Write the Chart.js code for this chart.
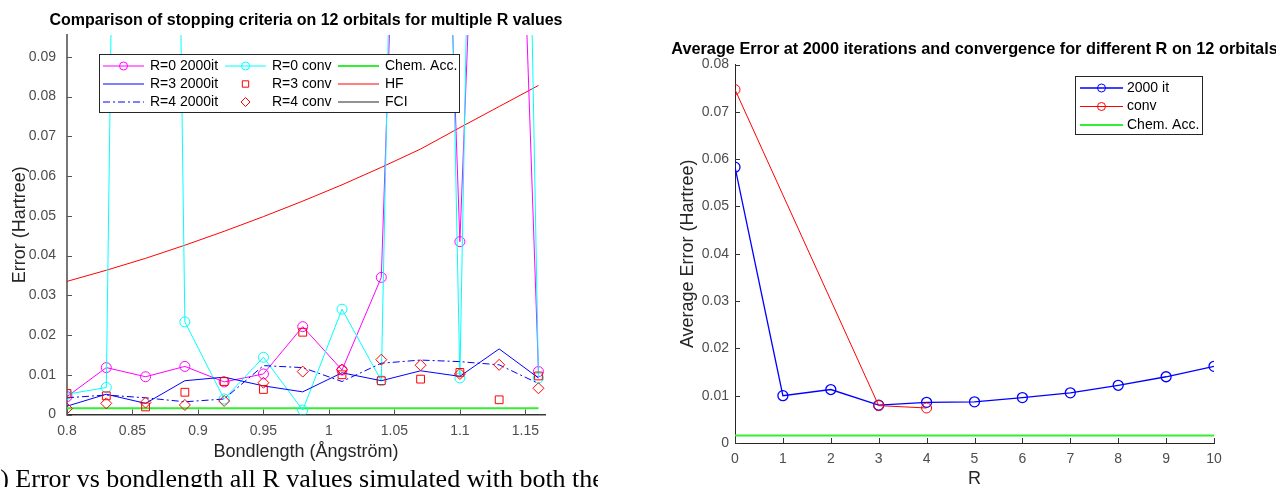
<!DOCTYPE html>
<html>
<head>
<meta charset="utf-8">
<script src="https://cdn.jsdelivr.net/npm/chart.js@4.4.0/dist/chart.umd.min.js"></script>
<style>
  html, body { margin: 0; padding: 0; background: #fff; }
  body { width: 1276px; height: 487px; position: relative; overflow: hidden; }
  #leftBox { position: absolute; left: 0; top: 0; width: 600px; height: 487px; }
  #rightBox { position: absolute; left: 640px; top: 0; width: 636px; height: 487px; }
  #caption {
    position: absolute; left: -20px; top: 466px; width: 618px; height: 21px;
    overflow: hidden; white-space: nowrap; line-height: 26px;
    font-family: 'Liberation Serif', 'DejaVu Serif', serif; font-size: 26px; color: #000;
  }
</style>
</head>
<body>
<div id="leftBox"><canvas id="stopChart" width="600" height="487"></canvas></div>
<div id="rightBox"><canvas id="avgChart" width="636" height="487"></canvas></div>
<div id="caption">(a) Error vs bondlength all R values simulated with both the</div>
<script>
// left plot: error per bondlength
const bondLengths = [0.8, 0.83, 0.86, 0.89, 0.92, 0.95, 0.98, 1.01, 1.04, 1.07, 1.1, 1.13, 1.16];
const r0Iter = [0.0045, 0.0118, 0.0095, 0.0121, 0.0082, 0.0102, 0.0221, 0.0112, 0.0345, 0.33, 0.0435, 0.30, 0.0108];
const r0Conv = [0.0051, 0.0068, 0.75, 0.0233, 0.0039, 0.0144, 0.0011, 0.0265, 0.0085, 0.50, 0.0092, 0.55, 0.0092];
const r3Iter = [0.0021, 0.0051, 0.0028, 0.0085, 0.0094, 0.0072, 0.0057, 0.0105, 0.0085, 0.0110, 0.0096, 0.0165, 0.0092];
const r3Conv = [0.0053, 0.0047, 0.0019, 0.0056, 0.0083, 0.0063, 0.0207, 0.0100, 0.0085, 0.0089, 0.0106, 0.0037, 0.0097];
const r4Iter = [0.0042, 0.0049, 0.0042, 0.0032, 0.0039, 0.0123, 0.0118, 0.0083, 0.0129, 0.0137, 0.0133, 0.0125, 0.0078];
const r4Conv = [0.0015, 0.0028, 0.0030, 0.0024, 0.0034, 0.0080, 0.0108, 0.0113, 0.0138, 0.0124, 0.0102, 0.0125, 0.0066];
const hfError = [0.0335, 0.0363, 0.0393, 0.0426, 0.0461, 0.0498, 0.0537, 0.0578, 0.0622, 0.0668, 0.0722, 0.0775, 0.0828];
const fciError = [0, 0, 0, 0, 0, 0, 0, 0, 0, 0, 0, 0, 0];
const chemAcc = 0.0016;
const bondTicks = [0.8, 0.85, 0.9, 0.95, 1, 1.05, 1.1, 1.15];
const errTicks = [0, 0.01, 0.02, 0.03, 0.04, 0.05, 0.06, 0.07, 0.08, 0.09];

// right plot: average error per R
const rValues = [0, 1, 2, 3, 4, 5, 6, 7, 8, 9, 10];
const avgIter = [0.0583, 0.0100, 0.0113, 0.0080, 0.0086, 0.0087, 0.0096, 0.0106, 0.0122, 0.0140, 0.0162];
const convR = [0, 3, 4];
const avgConv = [0.0747, 0.0079, 0.0074];
const rTicks = [0, 1, 2, 3, 4, 5, 6, 7, 8, 9, 10];
const avgTicks = [0, 0.01, 0.02, 0.03, 0.04, 0.05, 0.06, 0.07, 0.08];

const FONT = "'Liberation Sans Narrow', 'Liberation Sans', Arial, sans-serif";
const TICK_COLOR = '#4d4d4d';
const GREEN = '#33ee33';

function pts(xs, ys) {
  return xs.map((x, i) => ({ x: x, y: ys[i] }));
}

// MATLAB style ticks pointing into the plot
const innerTicks = {
  id: 'innerTicks',
  afterDatasetsDraw(chart, args, o) {
    const { ctx, chartArea: a, scales: { x, y } } = chart;
    ctx.save();
    ctx.strokeStyle = o.color;
    ctx.lineWidth = 1;
    ctx.beginPath();
    x.ticks.forEach(t => {
      const px = Math.round(x.getPixelForValue(t.value)) + 0.5;
      ctx.moveTo(px, a.bottom);
      ctx.lineTo(px, a.bottom - o.len);
    });
    y.ticks.forEach(t => {
      const py = Math.round(y.getPixelForValue(t.value)) + 0.5;
      ctx.moveTo(a.left, py);
      ctx.lineTo(a.left + o.len, py);
    });
    ctx.stroke();
    ctx.restore();
  }
};

const axisText = {
  id: 'axisText',
  afterDraw(chart, args, o) {
    const { ctx, chartArea: a } = chart;
    const cx = (a.left + a.right) / 2;
    const cy = (a.top + a.bottom) / 2;
    ctx.save();
    ctx.textAlign = 'center';
    ctx.textBaseline = 'middle';
    ctx.fillStyle = '#000';
    ctx.font = 'bold ' + o.titleSize + 'px ' + FONT;
    ctx.fillText(o.title, cx, o.titleY);
    ctx.fillStyle = '#262626';
    ctx.font = '18px ' + FONT;
    ctx.fillText(o.xLabel, cx, o.xLabelY);
    ctx.translate(o.yLabelX, cy);
    ctx.rotate(-Math.PI / 2);
    ctx.fillText(o.yLabel, 0, 0);
    ctx.restore();
  }
};

const boxLegend = {
  id: 'boxLegend',
  afterDraw(chart, args, o) {
    const ctx = chart.ctx;
    ctx.save();
    ctx.fillStyle = '#fff';
    ctx.fillRect(o.x, o.y, o.w, o.h);
    ctx.strokeStyle = '#262626';
    ctx.lineWidth = 1;
    ctx.strokeRect(o.x + 0.5, o.y + 0.5, o.w, o.h);
    ctx.font = '14px ' + FONT;
    ctx.textBaseline = 'middle';
    ctx.textAlign = 'left';
    o.items.forEach(it => {
      const ds = chart.data.datasets.find(d => d.label === it.label);
      if (ds.showLine !== false) {
        ctx.strokeStyle = ds.borderColor;
        ctx.lineWidth = ds.borderWidth;
        ctx.setLineDash(ds.borderDash || []);
        ctx.beginPath();
        ctx.moveTo(it.x, it.y);
        ctx.lineTo(it.x + o.lineLen, it.y);
        ctx.stroke();
        ctx.setLineDash([]);
      }
      if (ds.pointRadius > 0) {
        ctx.strokeStyle = ds.pointBorderColor;
        ctx.fillStyle = 'rgba(0,0,0,0)';
        ctx.lineWidth = 1;
        Chart.helpers.drawPoint(ctx, { pointStyle: ds.pointStyle, radius: ds.pointRadius - 1, borderWidth: 1 },
          it.x + o.lineLen / 2, it.y);
      }
      ctx.fillStyle = '#000';
      ctx.fillText(ds.label, it.x + o.lineLen + o.gap, it.y);
    });
    ctx.restore();
  }
};

function lineSet(label, ys, color, extra) {
  return Object.assign({
    label: label,
    data: pts(bondLengths, ys),
    borderColor: color,
    borderWidth: 1,
    borderJoinStyle: 'round',
    pointRadius: 0,
    pointStyle: 'circle',
    pointBorderColor: color,
    pointBackgroundColor: 'rgba(0,0,0,0)',
    pointBorderWidth: 1,
    tension: 0
  }, extra || {});
}

function axisOpts(min, max, tickVals, size, pad, axisColor, axisWidth, isX) {
  return {
    type: 'linear',
    min: min,
    max: max,
    afterBuildTicks: s => { s.ticks = tickVals.map(v => ({ value: v })); },
    afterFit: s => { if (isX) s.height = size; else s.width = size; },
    grid: { display: false, drawTicks: false },
    border: { display: true, color: axisColor, width: axisWidth },
    ticks: { padding: pad, color: TICK_COLOR, font: { family: FONT, size: 14 }, callback: v => String(v) }
  };
}

new Chart(document.getElementById('stopChart'), {
  type: 'line',
  data: {
    datasets: [
      lineSet('R=3 conv', r3Conv, '#ff0000', { showLine: false, pointRadius: 5.5, pointStyle: 'rect', order: 0 }),
      lineSet('R=4 conv', r4Conv, '#ff0000', { showLine: false, pointRadius: 5.5, pointStyle: 'rectRot', order: 0 }),
      lineSet('R=4 2000it', r4Iter, '#0000ff', { borderDash: [7, 3, 2, 3], order: 1 }),
      lineSet('R=3 2000it', r3Iter, '#0000ff', { order: 1 }),
      lineSet('R=0 conv', r0Conv, '#00ffff', { pointRadius: 5, order: 2 }),
      lineSet('R=0 2000it', r0Iter, '#ff00ff', { pointRadius: 5, order: 3 }),
      lineSet('HF', hfError, '#ff0000', { order: 4 }),
      lineSet('FCI', fciError, '#262626', { order: 5 }),
      lineSet('Chem. Acc.', bondLengths.map(() => chemAcc), GREEN, { borderWidth: 2, order: 4 })
    ]
  },
  options: {
    responsive: false,
    animation: false,
    layout: { padding: { top: 35, right: 55, left: 0, bottom: 0 } },
    plugins: {
      legend: { display: false },
      tooltip: { enabled: false },
      innerTicks: { color: '#555', len: 5 },
      axisText: {
        title: 'Comparison of stopping criteria on 12 orbitals for multiple R values', titleY: 21, titleSize: 16,
        xLabel: 'Bondlength (Ångström)', xLabelY: 452,
        yLabel: 'Error (Hartree)', yLabelX: 20
      },
      boxLegend: {
        x: 99, y: 54, w: 360, h: 58, lineLen: 41, gap: 6,
        items: [
          { label: 'R=0 2000it', x: 103, y: 66 }, { label: 'R=3 2000it', x: 103, y: 84 }, { label: 'R=4 2000it', x: 103, y: 102 },
          { label: 'R=0 conv', x: 225, y: 66 }, { label: 'R=3 conv', x: 225, y: 84 }, { label: 'R=4 conv', x: 225, y: 102 },
          { label: 'Chem. Acc.', x: 338, y: 66 }, { label: 'HF', x: 338, y: 84 }, { label: 'FCI', x: 338, y: 102 }
        ]
      }
    },
    scales: {
      x: axisOpts(0.8, 1.165, bondTicks, 72.5, 8, '#3a3a3a', 1.5, true),
      y: axisOpts(0, 0.0955, errTicks, 67, 11, '#777777', 2, false)
    }
  },
  plugins: [innerTicks, axisText, boxLegend]
});

new Chart(document.getElementById('avgChart'), {
  type: 'line',
  data: {
    datasets: [
      {
        label: '2000 it', data: pts(rValues, avgIter), borderColor: '#0000ff', borderWidth: 1.3,
        pointRadius: 5, pointStyle: 'circle', pointBorderColor: '#0000ff', pointBorderWidth: 1.3,
        pointBackgroundColor: 'rgba(0,0,0,0)', tension: 0, order: 1
      },
      {
        label: 'conv', data: pts(convR, avgConv), borderColor: '#ff0000', borderWidth: 1,
        pointRadius: 5, pointStyle: 'circle', pointBorderColor: '#ff0000', pointBorderWidth: 1,
        pointBackgroundColor: 'rgba(0,0,0,0)', tension: 0, order: 0
      },
      {
        label: 'Chem. Acc.', data: pts(rValues, rValues.map(() => chemAcc)), borderColor: GREEN,
        borderWidth: 2, pointRadius: 0, tension: 0, order: 2
      }
    ]
  },
  options: {
    responsive: false,
    animation: false,
    layout: { padding: { top: 64.5, right: 62, left: 0, bottom: 0 } },
    plugins: {
      legend: { display: false },
      tooltip: { enabled: false },
      innerTicks: { color: '#333', len: 5 },
      axisText: {
        title: 'Average Error at 2000 iterations and convergence for different R on 12 orbitals', titleY: 50, titleSize: 16.3,
        xLabel: 'R', xLabelY: 479,
        yLabel: 'Average Error (Hartree)', yLabelX: 48
      },
      boxLegend: {
        x: 435, y: 76, w: 127, h: 58, lineLen: 43, gap: 4,
        items: [
          { label: '2000 it', x: 440, y: 88 }, { label: 'conv', x: 440, y: 106.5 }, { label: 'Chem. Acc.', x: 440, y: 125 }
        ]
      }
    },
    scales: {
      x: axisOpts(0, 10, rTicks, 44, 8, '#262626', 1, true),
      y: axisOpts(0, 0.08, avgTicks, 95, 6, '#262626', 1, false)
    }
  },
  plugins: [innerTicks, axisText, boxLegend]
});
</script>
</body>
</html>
